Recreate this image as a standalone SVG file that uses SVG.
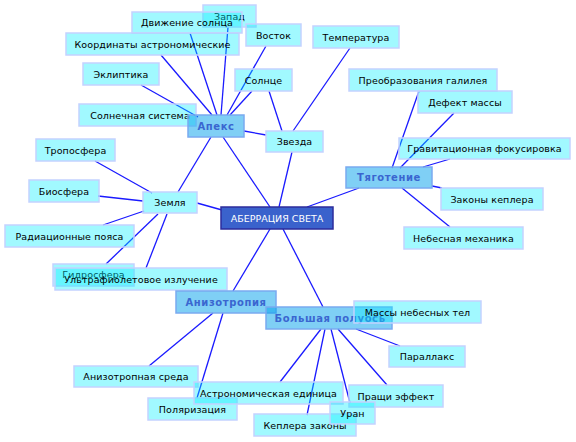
<svg xmlns="http://www.w3.org/2000/svg" width="576" height="442" viewBox="0 0 576 442">
<style>
.e line{stroke:#1a1aff;stroke-width:1.3}
.leaf rect{fill:#00f0ff;fill-opacity:0.37;stroke:#c4d2ff;stroke-width:1.5}
.leaf text{font-family:"DejaVu Sans",sans-serif;font-size:9.5px;fill:#000;text-anchor:middle;letter-spacing:0.1px}
.cat rect{fill:#00a0eb;fill-opacity:0.5;stroke:#7aaaf0;stroke-width:1.5}
.cat text{font-family:"DejaVu Sans",sans-serif;font-size:10px;font-weight:bold;fill:#3a66d0;text-anchor:middle;letter-spacing:0.6px}
.main rect{fill:#3a62cc;stroke:#2c2c9c;stroke-width:1.5}
.main text{font-family:"DejaVu Sans",sans-serif;font-size:9.5px;fill:#fff;text-anchor:middle}
</style>
<rect width="576" height="442" fill="#fff"/>
<g class="e" id="connectors">
<line x1="141" y1="85" x2="198" y2="117"/>
<line x1="161" y1="55" x2="212" y2="115"/>
<line x1="190" y1="33" x2="217" y2="115"/>
<line x1="228" y1="27" x2="221" y2="115"/>
<line x1="266" y1="46" x2="227" y2="115"/>
<line x1="252" y1="91" x2="230" y2="115"/>
<line x1="269" y1="91" x2="282" y2="131"/>
<line x1="350" y1="48" x2="293" y2="131"/>
<line x1="244" y1="131" x2="266" y2="135"/>
<line x1="292" y1="152" x2="279" y2="207"/>
<line x1="223" y1="137" x2="270" y2="207"/>
<line x1="211" y1="137" x2="178" y2="192"/>
<line x1="197" y1="203" x2="222" y2="210"/>
<line x1="359" y1="188" x2="307" y2="207"/>
<line x1="419" y1="91" x2="392" y2="168"/>
<line x1="454" y1="113" x2="400" y2="168"/>
<line x1="450" y1="159" x2="423" y2="167"/>
<line x1="432" y1="186" x2="442" y2="188"/>
<line x1="402" y1="188" x2="450" y2="227"/>
<line x1="95" y1="161" x2="152" y2="193"/>
<line x1="98" y1="196" x2="143" y2="201"/>
<line x1="103" y1="225" x2="144" y2="211"/>
<line x1="106" y1="264" x2="158" y2="214"/>
<line x1="146" y1="268" x2="167" y2="214"/>
<line x1="270" y1="229" x2="233" y2="291"/>
<line x1="283" y1="229" x2="323" y2="307"/>
<line x1="213" y1="313" x2="149" y2="366"/>
<line x1="223" y1="313" x2="197" y2="398"/>
<line x1="321" y1="329" x2="280" y2="382"/>
<line x1="325" y1="329" x2="307" y2="415"/>
<line x1="331" y1="329" x2="350" y2="403"/>
<line x1="338" y1="329" x2="387" y2="385"/>
<line x1="356" y1="329" x2="400" y2="346"/>
</g>
<g class="leaf" id="n-zapad"><rect x="203" y="5" width="53" height="22"/><text x="229.5" y="19.5">Запад</text></g>
<g class="leaf" id="n-dvizhenie"><rect x="132" y="12" width="110" height="21"/><text x="187" y="26">Движение солнца</text></g>
<g class="leaf" id="n-vostok"><rect x="246" y="24" width="55" height="22"/><text x="273.5" y="38.5">Восток</text></g>
<g class="leaf" id="n-koordinaty"><rect x="66" y="33" width="173" height="22"/><text x="152.5" y="47.5">Координаты астрономические</text></g>
<g class="leaf" id="n-ekliptika"><rect x="83" y="63" width="76" height="22"/><text x="121" y="77.5">Эклиптика</text></g>
<g class="leaf" id="n-solnce"><rect x="235" y="69" width="57" height="22"/><text x="263.5" y="83.5">Солнце</text></g>
<g class="leaf" id="n-temperatura"><rect x="313" y="26" width="86" height="22"/><text x="356" y="40.5">Температура</text></g>
<g class="leaf" id="n-preobr"><rect x="349" y="69" width="148" height="22"/><text x="423" y="83.5">Преобразования галилея</text></g>
<g class="leaf" id="n-defekt"><rect x="418" y="91" width="94" height="22"/><text x="465" y="105.5">Дефект массы</text></g>
<g class="leaf" id="n-solsistema"><rect x="79" y="104" width="117" height="22"/><text x="140" y="118.5">Солнечная система</text></g>
<g class="cat" id="n-apeks"><rect x="188" y="115" width="56" height="22"/><text x="216" y="129.5">Апекс</text></g>
<g class="leaf" id="n-zvezda"><rect x="266" y="131" width="57" height="21"/><text x="294.5" y="145">Звезда</text></g>
<g class="leaf" id="n-grav"><rect x="399" y="138" width="171" height="21"/><text x="484.5" y="152">Гравитационная фокусировка</text></g>
<g class="cat" id="n-tyagotenie"><rect x="346" y="167" width="86" height="21"/><text x="389" y="181">Тяготение</text></g>
<g class="leaf" id="n-zakony"><rect x="441" y="188" width="102" height="22"/><text x="492" y="202.5">Законы кеплера</text></g>
<g class="leaf" id="n-nebmeh"><rect x="404" y="227" width="119" height="22"/><text x="463.5" y="241.5">Небесная механика</text></g>
<g class="leaf" id="n-troposfera"><rect x="36" y="139" width="79" height="22"/><text x="75.5" y="153.5">Тропосфера</text></g>
<g class="leaf" id="n-biosfera"><rect x="29" y="180" width="70" height="22"/><text x="64" y="194.5">Биосфера</text></g>
<g class="leaf" id="n-zemlya"><rect x="143" y="192" width="54" height="21"/><text x="170" y="206">Земля</text></g>
<g class="leaf" id="n-radiac"><rect x="5" y="225" width="129" height="22"/><text x="69.5" y="239.5">Радиационные пояса</text></g>
<g class="leaf" id="n-gidrosfera"><rect x="53" y="264" width="81" height="22"/><text x="93.5" y="277.5">Гидросфера</text></g>
<g class="leaf" id="n-ultra"><rect x="55" y="268" width="172" height="22"/><text x="141" y="283">Ультрафиолетовое излучение</text></g>
<g class="main" id="n-main"><rect x="221" y="207" width="112" height="22"/><text x="277" y="221.5">АБЕРРАЦИЯ СВЕТА</text></g>
<g class="cat" id="n-anizotropiya"><rect x="176" y="291" width="100" height="22"/><text x="226" y="305.5">Анизотропия</text></g>
<g class="cat" id="n-bolshaya"><rect x="266" y="307" width="126" height="22"/><text x="330" y="321.5">Большая полуось</text></g>
<g class="leaf" id="n-massy"><rect x="354" y="301" width="127" height="22"/><text x="417.5" y="315.5">Массы небесных тел</text></g>
<g class="leaf" id="n-parallaks"><rect x="389" y="346" width="76" height="21"/><text x="427" y="360">Параллакс</text></g>
<g class="leaf" id="n-sreda"><rect x="74" y="366" width="124" height="21"/><text x="136" y="380">Анизотропная среда</text></g>
<g class="leaf" id="n-polyarizaciya"><rect x="148" y="398" width="89" height="22"/><text x="192.5" y="412.5">Поляризация</text></g>
<g class="leaf" id="n-astroed"><rect x="194" y="382" width="149" height="22"/><text x="268.5" y="396.5">Астрономическая единица</text></g>
<g class="leaf" id="n-praschi"><rect x="349" y="385" width="94" height="22"/><text x="396" y="399.5">Пращи эффект</text></g>
<g class="leaf" id="n-keplera"><rect x="254" y="414" width="102" height="22"/><text x="305" y="428.5">Кеплера законы</text></g>
<g class="leaf" id="n-uran"><rect x="330" y="402" width="45" height="22"/><text x="352.5" y="416.5">Уран</text></g>
</svg>
